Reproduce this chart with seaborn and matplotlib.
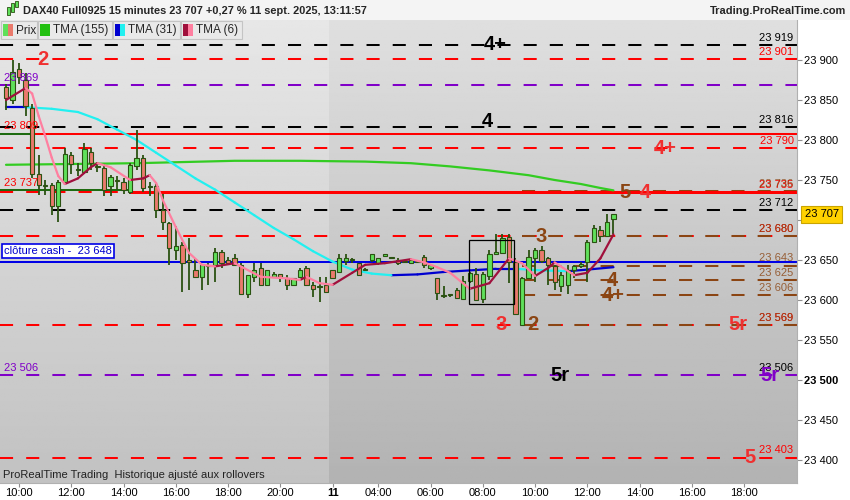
import numpy as np
import pandas as pd
import matplotlib.pyplot as plt
import seaborn as sns
from matplotlib.patches import Rectangle

# --- candles (15 min bars, 10 sept 09:30 -> 11 sept 13:00) ---
day1_start = "2025-09-10 09:30"
day2_start = "2025-09-11 02:15"
n_day1 = 50
axis_end = "2025-09-11 19:00"

opens = [23866, 23850, 23889, 23875, 23840, 23758, 23744, 23744, 23717, 23748,
         23781, 23762, 23760, 23785, 23768, 23765, 23742, 23750, 23748, 23735,
         23767, 23777, 23742, 23742, 23712, 23696, 23663, 23669, 23650, 23638,
         23629, 23644, 23644, 23660, 23650, 23652, 23644, 23608, 23629, 23640,
         23619, 23629, 23632, 23627, 23619, 23629, 23640, 23619, 23617, 23619,
         23637, 23635, 23649, 23651, 23646, 23638, 23650, 23646, 23655, 23652,
         23650, 23648, 23646, 23648, 23654, 23640, 23628, 23606, 23606, 23613,
         23601, 23624, 23632, 23601, 23630, 23658, 23659, 23679, 23648, 23569,
         23627, 23652, 23663, 23653, 23642, 23617, 23619, 23637, 23642, 23647,
         23672, 23688, 23680, 23701]
highs = [23870, 23900, 23896, 23884, 23845, 23781, 23750, 23746, 23750, 23790,
         23785, 23771, 23796, 23790, 23773, 23770, 23756, 23755, 23752, 23771,
         23812, 23781, 23748, 23748, 23733, 23698, 23692, 23673, 23677, 23652,
         23644, 23646, 23665, 23662, 23654, 23658, 23646, 23631, 23646, 23646,
         23637, 23635, 23633, 23631, 23627, 23640, 23642, 23623, 23629, 23629,
         23637, 23658, 23658, 23652, 23646, 23640, 23658, 23653, 23658, 23653,
         23652, 23649, 23651, 23650, 23656, 23644, 23628, 23617, 23608, 23615,
         23630, 23635, 23640, 23635, 23662, 23683, 23682, 23683, 23652, 23629,
         23662, 23665, 23667, 23654, 23644, 23635, 23644, 23644, 23648, 23675,
         23694, 23692, 23707, 23708]
lows = [23838, 23845, 23870, 23830, 23752, 23731, 23731, 23706, 23698, 23745,
        23758, 23755, 23758, 23762, 23760, 23730, 23730, 23738, 23733, 23732,
        23762, 23735, 23730, 23702, 23687, 23644, 23650, 23610, 23612, 23627,
        23612, 23619, 23623, 23640, 23644, 23642, 23608, 23602, 23623, 23619,
        23619, 23627, 23623, 23612, 23617, 23627, 23619, 23604, 23598, 23610,
        23627, 23635, 23644, 23646, 23631, 23637, 23648, 23644, 23655, 23651,
        23644, 23647, 23645, 23646, 23640, 23637, 23600, 23602, 23604, 23601,
        23600, 23621, 23600, 23596, 23625, 23658, 23658, 23621, 23581, 23569,
        23627, 23623, 23646, 23619, 23613, 23610, 23607, 23627, 23640, 23623,
        23672, 23672, 23680, 23683]
closes = [23852, 23885, 23879, 23842, 23758, 23744, 23742, 23717, 23748, 23783,
          23770, 23764, 23789, 23771, 23766, 23737, 23754, 23749, 23737, 23769,
          23777, 23740, 23741, 23712, 23698, 23665, 23667, 23646, 23647, 23629,
          23644, 23643, 23660, 23646, 23646, 23644, 23608, 23631, 23638, 23619,
          23637, 23633, 23629, 23619, 23627, 23637, 23619, 23614, 23616, 23610,
          23628, 23652, 23652, 23650, 23631, 23639, 23658, 23653, 23658, 23652,
          23646, 23648, 23650, 23648, 23644, 23644, 23609, 23605, 23606, 23602,
          23624, 23634, 23600, 23632, 23658, 23660, 23678, 23648, 23583, 23628,
          23654, 23662, 23649, 23644, 23622, 23631, 23638, 23642, 23645, 23673,
          23690, 23680, 23697, 23707]

# --- moving averages (values read at these bar numbers) ---
tma155_idx = [0, 10, 20, 30, 35, 45, 55, 62, 68, 74, 80, 84, 88, 91, 93]
tma155_val = [23769, 23770, 23771, 23773, 23774, 23774, 23773, 23771, 23767,
              23762, 23756, 23750, 23745, 23740, 23737]

tma31_idx = [0, 3, 7, 11, 14, 17, 20, 23, 26, 29, 32, 35, 38, 41, 44, 47, 50,
             53, 56, 59, 63, 67, 71, 75, 78, 82, 86, 89, 93]
tma31_val = [23841, 23841, 23839, 23835, 23826, 23813, 23800, 23784, 23768,
             23752, 23738, 23722, 23706, 23690, 23676, 23661, 23648, 23638,
             23633, 23631, 23632, 23635, 23637, 23639, 23639, 23637, 23636,
             23638, 23641]

tma6_idx = [0, 3, 4, 5, 6, 7, 8, 9, 11, 13, 14, 16, 19, 21, 22, 23, 24, 26, 28,
            30, 32, 35, 39, 43, 45, 46, 48, 50, 53, 55, 58, 62, 64, 66, 68, 71,
            74, 77, 79, 81, 83, 84, 87, 89, 91, 93]
tma6_val = [23850, 23865, 23858, 23830, 23805, 23778, 23755, 23745, 23752,
            23766, 23771, 23766, 23750, 23752, 23756, 23746, 23725, 23691,
            23659, 23644, 23642, 23646, 23629, 23627, 23625, 23629, 23621,
            23619, 23634, 23644, 23646, 23651, 23647, 23641, 23634, 23614,
            23621, 23652, 23646, 23630, 23640, 23647, 23631, 23634, 23652,
            23682]

# --- horizontal levels ---
dashed_levels = [23919, 23901, 23869, 23816, 23790, 23735, 23712, 23680, 23569, 23506, 23403]
dashed_colors = ["black", "#ff0000", "#8000c8", "black", "#ff0000", "#ff0000",
                 "black", "#ff0000", "#ff0000", "#8000c8", "#ff0000"]
right_labels = [23919, 23901, 23816, 23790, 23735, 23712, 23680, 23569, 23506, 23403]
right_label_colors = ["black", "#ff0000", "black", "#ff0000", "#ff0000", "black",
                      "#ff0000", "#ff0000", "black", "#ff0000"]
brown_levels = [23736, 23680, 23643, 23625, 23606, 23569]
brown_start = 79
solid_levels = [23808, 23735]
solid_start = [4, 19]
left_labels = [23869, 23808, 23737, 23506]
left_label_colors = ["#8000c8", "#ff0000", "#ff0000", "#8000c8"]
cash_close = 23648
last_price = 23707
box_bars = [70.9, 77.8]
box_prices = [23595, 23675]

# letter marks: (text, bar, level, colour)
marks = [("2", 5.7, 23901, "#f03030"), ("4+", 74.9, 23919, "black"),
         ("4", 73.7, 23823, "black"), ("4+", 100.9, 23790, "#f03030"),
         ("5", 94.8, 23735, "#8b4513"), ("4", 97.9, 23735, "#f03030"),
         ("3", 81.9, 23680, "#8b4513"), ("4", 92.9, 23625, "#8b4513"),
         ("4+", 92.9, 23606, "#8b4513"), ("3", 75.8, 23569, "#f03030"),
         ("2", 80.7, 23569, "#8b4513"), ("5r", 112, 23569, "#f03030"),
         ("5r", 84.8, 23506, "black"), ("5r", 117, 23506, "#8000c8"),
         ("5", 113.9, 23403, "#f03030")]

title = "DAX40 Full0925 15 minutes 23 707 +0,27 % 11 sept. 2025, 13:11:57"
site = "Trading.ProRealTime.com"
footer = "ProRealTime Trading  Historique ajusté aux rollovers"
legend_items = ["Prix", "TMA (155)", "TMA (31)", "TMA (6)"]


def fmt(v):
    return f"{int(v):,}".replace(",", " ")


def ma_frame(idx, val):
    rows = []
    for k in range(len(idx) - 1):
        d = "up" if val[k + 1] >= val[k] else "down"
        rows.append((k, idx[k], val[k], d))
        rows.append((k, idx[k + 1], val[k + 1], d))
    return pd.DataFrame(rows, columns=["seg", "x", "y", "dir"])


sns.set_theme(style="white")
plt.rcParams["font.family"] = ["Liberation Sans", "DejaVu Sans"]

W, H = 850, 500
fig = plt.figure(figsize=(8.5, 5), dpi=100, facecolor="white")
ax = fig.add_axes([0, 17 / H, 797 / W, 463 / H])

times = pd.date_range(day1_start, periods=n_day1, freq="15min").append(
    pd.date_range(day2_start, axis_end, freq="15min"))
bars = pd.DataFrame({"t": times[:len(opens)], "open": opens, "high": highs,
                     "low": lows, "close": closes})
bars["x"] = np.arange(len(bars))

x0, x1 = -0.92, 121.1
y0, y1 = 23371.25, 23950
ax.set_xlim(x0, x1)
ax.set_ylim(y0, y1)

# background: lighter first session, darker second one
split = n_day1 - 0.5
g1 = np.linspace(0.905, 0.76, 200)[:, None]
g2 = np.linspace(0.875, 0.70, 200)[:, None]
ax.imshow(np.repeat(g1, 2, axis=1), cmap="gray", vmin=0, vmax=1, aspect="auto",
          extent=[x0, split, y0, y1], origin="upper", zorder=0)
ax.imshow(np.repeat(g2, 2, axis=1), cmap="gray", vmin=0, vmax=1, aspect="auto",
          extent=[split, x1, y0, y1], origin="upper", zorder=0)

lw = 1.45
for lev, col in zip(dashed_levels, dashed_colors):
    ax.axhline(lev, color=col, lw=lw, dashes=(6.5, 6.5), zorder=2)
for lev in brown_levels:
    ax.plot([brown_start, x1], [lev, lev], color="#8b4513", lw=lw,
            dashes=(6.5, 6.5), zorder=2.1)
for lev, st, lg in zip(solid_levels, solid_start, left_labels[1:3]):
    ax.plot([st, x1], [lev, lev], color="#ff0000", lw=lw * (1 if st < 10 else 1.5), zorder=2.2)
    ax.plot([x0, st], [lg, lg], color="#1e6b10", lw=lw, zorder=2.2)
ax.axhline(cash_close, color="#0000e6", lw=lw, zorder=2.3)

# moving averages
sns.lineplot(x=tma155_idx, y=tma155_val, color="#33cc22", lw=1.6, ax=ax, zorder=3)
sns.lineplot(data=ma_frame(tma31_idx, tma31_val), x="x", y="y", hue="dir",
             units="seg", estimator=None, sort=False, legend=False,
             palette={"up": "#0000d0", "down": "#22f0f0"}, lw=1.6, ax=ax, zorder=3)

# candles
wick = "#2b5212"
ax.vlines(bars["x"], bars["low"], bars["high"], color=wick, lw=1.3, zorder=4)
up = bars["close"] >= bars["open"]
body_h = (bars["close"] - bars["open"]).abs().clip(lower=1.2)
body_b = bars[["open", "close"]].min(axis=1)
ax.bar(bars["x"][up], body_h[up], bottom=body_b[up], width=0.66,
       color="#5fe05a", edgecolor=wick, linewidth=0.8, zorder=5)
ax.bar(bars["x"][~up], body_h[~up], bottom=body_b[~up], width=0.66,
       color="#ea7a6c", edgecolor=wick, linewidth=0.8, zorder=5)

sns.lineplot(data=ma_frame(tma6_idx, tma6_val), x="x", y="y", hue="dir",
             units="seg", estimator=None, sort=False, legend=False,
             palette={"up": "#a0103c", "down": "#ff7fa0"}, lw=1.6, ax=ax, zorder=6)

ax.add_patch(Rectangle((box_bars[0], box_prices[0]), box_bars[1] - box_bars[0],
                       box_prices[1] - box_prices[0], fill=False, ec="black",
                       lw=0.9, zorder=7))

# level labels
for lev, col in zip(right_labels, right_label_colors):
    ax.annotate(fmt(lev), xy=(1, lev), xycoords=("axes fraction", "data"),
                xytext=(-2.5, 3), textcoords="offset points", ha="right",
                va="baseline", fontsize=8, color=col, zorder=8)
for lev in brown_levels:
    ax.annotate(fmt(lev), xy=(1, lev), xycoords=("axes fraction", "data"),
                xytext=(-2.5, 3), textcoords="offset points", ha="right",
                va="baseline", fontsize=8, color="#8b4513", alpha=0.8, zorder=8)
for lev, col in zip(left_labels, left_label_colors):
    ax.annotate(fmt(lev + 1 if lev == 23808 else lev), xy=(0, lev),
                xycoords=("axes fraction", "data"), xytext=(3, 3),
                textcoords="offset points", ha="left", va="baseline",
                fontsize=8, color=col, zorder=8)
ax.annotate(f"clôture cash -  {fmt(cash_close)}", xy=(0, cash_close),
            xycoords=("axes fraction", "data"), xytext=(3, 4),
            textcoords="offset points", ha="left", va="bottom", fontsize=8,
            color="#0000cc", zorder=8,
            bbox=dict(boxstyle="square,pad=0.15", fc="white", ec="#0000e6", lw=1.2))

for txt, bx, lev, col in marks:
    ax.text(bx, lev, txt, ha="center", va="center", fontsize=14.5,
            fontweight="bold", color=col, zorder=9)

ax.text(0.004, 0.006, footer, transform=ax.transAxes, fontsize=8,
        color="#222222", va="bottom", ha="left", zorder=9)

# axes
ax.yaxis.tick_right()
yt = list(range(23400, 23901, 50))
ax.set_yticks(yt)
ax.set_yticklabels([fmt(v) for v in yt], fontsize=8)
for lab, v in zip(ax.get_yticklabels(), yt):
    if v == 23500:
        lab.set_fontweight("bold")
tick_pos = [i for i, t in enumerate(times) if t.minute == 0 and t.hour % 2 == 0]
tick_lab = [t.strftime("%H:%M") for t in times[tick_pos]]
tick_pos.append(n_day1)
tick_lab.append(times[n_day1].strftime("%d"))
ax.set_xticks(tick_pos)
ax.set_xticklabels(tick_lab, fontsize=8)
for lab in ax.get_xticklabels():
    if lab.get_text() == times[n_day1].strftime("%d"):
        lab.set_fontweight("bold")
ax.tick_params(axis="x", length=3, width=0.8, color="#909090", pad=0.8,
               labelcolor="black", bottom=True)
ax.tick_params(axis="y", length=3.5, width=0.8, color="#909090", pad=1.5,
               labelcolor="black", right=True, left=False)
ax.set_xlabel("")
ax.set_ylabel("")
for s in ["top", "left"]:
    ax.spines[s].set_visible(False)
for s in ["right", "bottom"]:
    ax.spines[s].set_color("#b0b0b0")
    ax.spines[s].set_linewidth(0.8)

ax.annotate(fmt(last_price), xy=(1, last_price), xycoords=("axes fraction", "data"),
            xytext=(5.5, 0), textcoords="offset points", ha="left", va="center",
            fontsize=8, color="black", zorder=10, annotation_clip=False,
            bbox=dict(boxstyle="square,pad=0.3", fc="#ffd200", ec="#c9a400", lw=0.8))


# header and legend strip
def fig_rect(x, y, w, h, **kw):
    fig.add_artist(Rectangle((x / W, 1 - (y + h) / H), w / W, h / H,
                             transform=fig.transFigure, **kw))


fig_rect(0, 0, W, 20, fc="#f4f4f4", ec="none")
fig_rect(7, 7, 3, 8, fc="#5fe05a", ec=wick, lw=0.6)
fig_rect(11, 3, 3, 9, fc="#5fe05a", ec=wick, lw=0.6)
fig_rect(15, 1, 3, 6, fc="#5fe05a", ec=wick, lw=0.6)
fig.text(23 / W, 1 - 10.5 / H, title, fontsize=7.9, fontweight="bold", va="center")
fig.text(846 / W, 1 - 10.5 / H, site, fontsize=7.9, fontweight="bold", va="center",
         ha="right")

leg_x = [1, 38, 113, 181]
leg_w = [36, 74, 67, 61]
leg_icons = [("#5fe05a", "#ea7a6c"), ("#22c010", "#22c010"),
             ("#0000d0", "#22f0f0"), ("#a0103c", "#ff7fa0")]
for lx, lwid, name, (c1, c2) in zip(leg_x, leg_w, legend_items, leg_icons):
    fig_rect(lx, 21, lwid, 18, fc="#e9e9e9", ec="#c4c4c4", lw=0.8)
    fig_rect(lx + 2, 24, 5, 12, fc=c1, ec="none")
    fig_rect(lx + 7, 24, 5, 12, fc=c2, ec="none")
    fig.text((lx + 15) / W, 1 - 30.5 / H, name, fontsize=8.5, va="center")

fig.savefig("out.png", dpi=100, facecolor="white")
